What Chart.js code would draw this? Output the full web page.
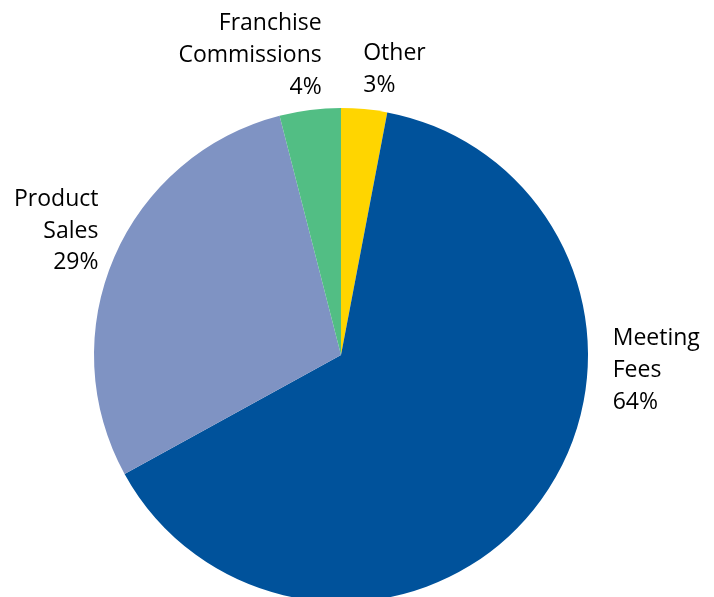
<!DOCTYPE html>
<html>
<head>
<meta charset="utf-8">
<script src="https://cdn.jsdelivr.net/npm/chart.js@4"></script>
<style>
    html, body { margin: 0; padding: 0; background: #fff; overflow: hidden; }
    #wrap { width: 714px; height: 620px; }
</style>
</head>
<body>
<div id="wrap"><canvas id="chart" width="714" height="620"></canvas></div>
<script>
// slices, clockwise from 12 o'clock
const categories = ['Other', 'Meeting Fees', 'Product Sales', 'Franchise Commissions'];
const shares = [3, 64, 29, 4];
const sliceColors = ['#FFD500', '#00529B', '#7F93C3', '#52BE84'];

// label lines as printed in the picture
const labelLines = [
    ['Other', '3%'],
    ['Meeting', 'Fees', '64%'],
    ['Product', 'Sales', '29%'],
    ['Franchise', 'Commissions', '4%']
];

// where each label sits, relative to the pie centre, in units of radius
const labelPlacement = [
    { dx: 0.090, dy: -1.193, align: 'left' },
    { dx: 1.100, dy: -0.040, align: 'left' },
    { dx: -0.982, dy: -0.604, align: 'right' },
    { dx: -0.078, dy: -1.315, align: 'right' }
];

const sliceLabels = {
    id: 'sliceLabels',
    afterDatasetsDraw(chart) {
        const ctx = chart.ctx;
        const arcs = chart.getDatasetMeta(0).data;
        const cx = arcs[0].x;
        const cy = arcs[0].y;
        const r = arcs[0].outerRadius;
        ctx.save();
        ctx.fillStyle = '#000';
        ctx.font = '23px "Open Sans"';
        ctx.textBaseline = 'alphabetic';
        for (let i = 0; i < arcs.length; i++) {
            const p = labelPlacement[i];
            ctx.textAlign = p.align;
            const x = cx + p.dx * r;
            let y = cy + p.dy * r;
            labelLines[i].forEach(function (line) {
                ctx.fillText(line, x, y);
                y += 31.7;
            });
        }
        ctx.restore();
    }
};

new Chart(document.getElementById('chart').getContext('2d'), {
    type: 'pie',
    data: {
        labels: categories,
        datasets: [{
            data: shares,
            backgroundColor: sliceColors,
            borderWidth: 0,
            hoverOffset: 0
        }]
    },
    options: {
        responsive: false,
        animation: false,
        events: [],
        layout: { padding: { left: 94, right: 126, top: 108, bottom: 18 } },
        plugins: {
            legend: { display: false },
            tooltip: { enabled: false }
        }
    },
    plugins: [sliceLabels]
});
</script>
</body>
</html>
